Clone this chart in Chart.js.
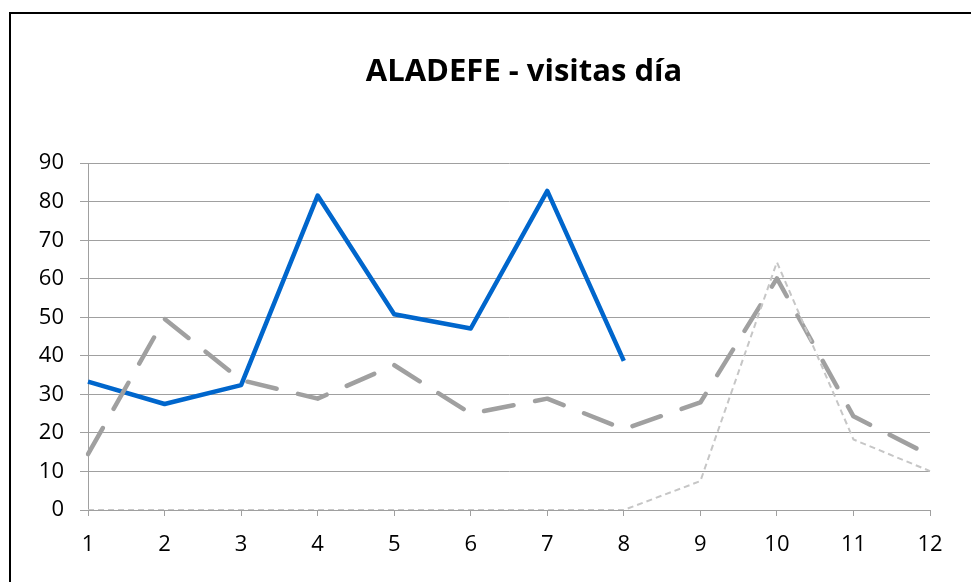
<!DOCTYPE html>
<html>
<head>
<meta charset="utf-8">
<script src="https://cdn.jsdelivr.net/npm/chart.js@4/dist/chart.umd.min.js"></script>
<style>
	html, body { margin: 0; padding: 0; background: #fff; overflow: hidden; width: 971px; height: 582px; }
	#marco { position: absolute; left: 9px; top: 12px; width: 1100px; height: 700px; border: 2px solid #000; box-sizing: border-box; }
	#grafico { position: absolute; left: 0; top: 0; }
</style>
</head>
<body>
<div id="marco"></div>
<canvas id="grafico" width="1048" height="582"></canvas>
<script>
// Datos
var dias = ['1', '2', '3', '4', '5', '6', '7', '8', '9', '10', '11', '12'];
var visitasAzul = [33.3, 27.5, 32.4, 81.6, 50.8, 47.1, 82.8, 38.7];
var visitasGris = [14.5, 49.6, 33.7, 28.9, 37.6, 25.0, 28.9, 21.0, 27.9, 60.1, 24.3, 14.2];
var visitasClara = [0, 0, 0, 0, 0, 0, 0, 0, 7.5, 64.3, 18.3, 10.1];
var ticksY = [0, 10, 20, 30, 40, 50, 60, 70, 80, 90];

var fuente = "'Open Sans', 'Liberation Sans', sans-serif";
var colorRejilla = '#a0a0a0';

var ctx = document.getElementById('grafico').getContext('2d');
var grafico = new Chart(ctx, {
	type: 'line',
	data: {
		labels: dias,
		datasets: [{
			label: 'Serie 1',
			data: visitasAzul,
			borderColor: '#0066cc',
			borderWidth: 4.5,
			borderJoinStyle: 'round',
			pointRadius: 0,
			tension: 0,
			order: 3
		}, {
			label: 'Serie 2',
			data: visitasGris,
			borderColor: '#a0a0a0',
			borderWidth: 4.5,
			borderDash: [30, 22],
			borderCapStyle: 'round',
			borderJoinStyle: 'round',
			pointRadius: 0,
			tension: 0,
			order: 2
		}, {
			label: 'Serie 3',
			data: visitasClara,
			borderColor: '#c6c6c6',
			borderWidth: 2,
			borderDash: [6, 4],
			pointRadius: 0,
			tension: 0,
			order: 1
		}]
	},
	options: {
		responsive: false,
		animation: false,
		layout: { padding: 0 },
		plugins: {
			legend: { display: false },
			tooltip: { enabled: false },
			title: {
				display: true,
				text: 'ALADEFE - visitas día',
				color: '#000',
				font: { family: fuente, size: 31, weight: 'bold', lineHeight: 1.2 },
				padding: { top: 54, bottom: 72 }
			}
		},
		scales: {
			x: {
				offset: false,
				grid: { drawOnChartArea: false, drawTicks: true, tickLength: 6, color: colorRejilla },
				border: { display: true, color: colorRejilla, width: 1 },
				ticks: { color: '#000', font: { family: fuente, size: 22 }, padding: 16, maxRotation: 0 },
				afterFit: function (escala) { escala.height = 72; }
			},
			y: {
				min: 0,
				max: 90,
				afterBuildTicks: function (escala) {
					escala.ticks = ticksY.map(function (v) { return { value: v }; });
				},
				grid: { color: colorRejilla, tickLength: 8 },
				border: { display: true, color: colorRejilla, width: 1 },
				ticks: { color: '#000', font: { family: fuente, size: 22 }, padding: 16 },
				afterFit: function (escala) { escala.width = 88; }
			},
			derecha: {
				position: 'right',
				display: true,
				grid: { display: false },
				border: { display: false },
				ticks: { display: false },
				afterFit: function (escala) { escala.width = 118; }
			}
		}
	}
});
</script>
</body>
</html>
